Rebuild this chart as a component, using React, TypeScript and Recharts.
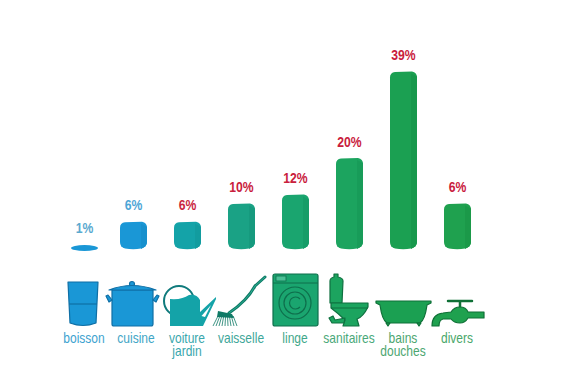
import { BarChart, Bar, XAxis, YAxis, Cell, LabelList } from 'recharts';

const categories = ['boisson', 'cuisine', 'voiture jardin', 'vaisselle', 'linge', 'sanitaires', 'bains douches', 'divers'];
const percentLabels = ['1%', '6%', '6%', '10%', '12%', '20%', '39%', '6%'];
// heights as drawn in the picture: "divers" is labelled 6% but drawn as tall as 10%
const barHeights = [1, 6, 6, 10, 12, 20, 39, 10];
const barColors = ['#1a97d6', '#1a97d6', '#14a3a8', '#1aa285', '#1aa56f', '#1ca45f', '#1ba052', '#1fa14f'];
const sideColors = ['#1a97d6', '#1790cd', '#129c9f', '#169a7e', '#169d68', '#189c59', '#17984c', '#1b9949'];
const labelColors = ['#5aa9cf', '#4ea6d6', '#c9283f', '#c9203c', '#c9203c', '#c9203c', '#c9203c', '#c9203c'];
const tickColors = ['#3ea3d0', '#3fa6c6', '#3aa7ad', '#3fa79a', '#3fa88a', '#4aa97a', '#4ca670', '#4aa76a'];

const chartData = categories.map((name, i) => ({ name, height: barHeights[i], label: percentLabels[i] }));

const FONT = '"Liberation Sans", sans-serif';
const FIRST_SHIFT = 5; // first column sits a little closer to the second one

const shiftOf = (i: number) => (i === 0 ? FIRST_SHIFT : 0);

function ColumnShape(props: any) {
  const { x, y, width, height, index } = props;
  const fill = barColors[index];
  if (index === 0) {
    return <ellipse cx={x + width / 2 + FIRST_SHIFT} cy={y + height - 1} rx={width / 2} ry={3} fill={fill} />;
  }
  const bottom = y + height;
  const body = `M${x},${y + 6} Q${x},${y + 1} ${x + 5},${y + 0.5} L${x + width - 5},${y} Q${x + width},${y + 1} ${x + width},${y + 6} L${x + width},${bottom - 7} Q${x + width},${bottom - 2} ${x + width - 6},${bottom - 0.5} Q${x + width / 2},${bottom + 1} ${x + 5},${bottom - 0.5} Q${x},${bottom - 2} ${x},${bottom - 7} Z`;
  return (
    <g>
      <path d={body} fill={fill} />
      <path d={`M${x + width - 6},${y + 2} L${x + width},${y + 5} L${x + width},${bottom - 7} Q${x + width},${bottom - 3} ${x + width - 6},${bottom} Z`} fill={sideColors[index]} />
    </g>
  );
}

function PercentLabel(props: any) {
  const { x, y, width, index } = props;
  return (
    <text transform={`translate(${x + width / 2 + shiftOf(index)},${y - 11.5}) scale(0.84,1)`} textAnchor="middle" fontFamily={FONT} fontSize={14.5} fontWeight={700} fill={labelColors[index]}>
      {percentLabels[index]}
    </text>
  );
}

// icons are decoration, origin is the column center on the icon base line
function Icon({ index }: { index: number }) {
  const fill = barColors[index];
  const dark = ['#0f6fa5', '#0f6fa5', '#0f7a7c', '#0f7a66', '#0e6f4c', '#0f7040', '#0f7038', '#0f7036'][index];
  const common = { fill, stroke: dark, strokeWidth: 1.2, strokeLinejoin: 'round' as const };
  switch (index) {
    case 0:
      return (
        <g>
          <path d="M-16,-44 L14,-44 L12,-3 Q-1,2 -14,-3 Z" {...common} />
          <path d="M-15,-22 L13,-22" stroke={dark} strokeWidth={1.2} />
        </g>
      );
    case 1:
      return (
        <g>
          <circle cx={-1} cy={-42} r={2.5} {...common} />
          <path d="M-21,-36 L20,-36 L20,-2 Q20,0 18,0 L-19,0 Q-21,0 -21,-2 Z" {...common} />
          <path d="M-24,-36 Q-1,-45 23,-36 Z" {...common} />
          <path d="M-21,-26 L-25,-31 L-27,-30 L-24,-24 Z M20,-26 L24,-31 L26,-30 L23,-24 Z" {...common} />
        </g>
      );
    case 2:
      return (
        <g>
          <circle cx={-8} cy={-25} r={15} fill="none" stroke={dark} strokeWidth={2} />
          <path d="M-17,-27 Q-5,-26 2,-31 Q10,-32 13,-26 L13,-14 L29,-29 L29,-27 L16,0 L-17,0 Z" fill={fill} />
          <path d="M14.5,-10 L24,-21 L18,-9 Z" fill="#fff" />
        </g>
      );
    case 3:
      return (
        <g>
          <path d="M-12,-13 Q6,-25 14,-40 L24,-49" fill="none" stroke={dark} strokeWidth={3} strokeLinecap="round" />
          <path d="M-12,-13 Q6,-25 14,-40 L24,-49" fill="none" stroke="#2bb094" strokeWidth={1} strokeLinecap="round" />
          <path d="M-23,-15 L-9,-12 L-7,-8 L-24,-9 Z" fill={dark} />
          {[-28, -25, -22, -19, -16, -13, -10, -7, -4].map((bx, i) => (
            <path key={i} d={`M${-23 + i * 1.9},-10 L${bx},0`} stroke={dark} strokeWidth={0.8} />
          ))}
        </g>
      );
    case 4:
      return (
        <g>
          <rect x={-22} y={-52} width={45} height={52} rx={2} {...common} />
          <path d="M-22,-43 L23,-43" stroke={dark} />
          <rect x={-19} y={-50} width={10} height={5} fill="#4cc096" stroke={dark} strokeWidth={0.8} />
          <circle cx={0} cy={-23} r={16} fill="none" stroke={dark} strokeWidth={1.2} />
          <circle cx={0} cy={-23} r={11} fill="none" stroke={dark} strokeWidth={1.2} />
          <path d="M5,-27 A6,6 0 1 0 5,-19" fill="none" stroke={dark} strokeWidth={1.2} />
        </g>
      );
    case 5:
      return (
        <g>
          <path d="M-15,-52 L-11,-52 L-11,-49 Q-6,-48 -6,-45 L-7,-23 L-19,-23 L-19,-45 Q-19,-48 -15,-49 Z" {...common} />
          <path d="M-18,-23 L19,-23 L19,-19 Q14,-9 8,-7 L10,0 L-6,0 L-4,-6 Q-10,-12 -18,-18 Z" {...common} />
          <path d="M-18,-18 L19,-18" stroke={dark} />
          <path d="M-4,-8 L-14,-6 L-16,-10 L-20,-8 L-17,-3 L-5,-3 Z" {...common} />
        </g>
      );
    case 6:
      return (
        <g>
          <path d="M-27,-25 L28,-25 L28,-23 L24,-21 Q22,-6 17,-3 L-16,-3 Q-21,-6 -23,-21 L-27,-23 Z" {...common} />
          <path d="M-17,-3 L-13,-3 L-15,0 Z M14,-3 L18,-3 L16,0 Z" {...common} />
        </g>
      );
    default:
      return (
        <g>
          <path d="M-9,-25 L15,-25 M3,-25 L3,-17" stroke={dark} strokeWidth={2.5} strokeLinecap="round" />
          <path d="M-25,0 Q-25,-12 -14,-13 L-6,-14 Q-3,-19 3,-19 Q9,-19 11,-14 L27,-14 L27,-8 L11,-8 Q8,-3 3,-3 Q-3,-3 -6,-7 L-14,-7 Q-18,-6 -18,0 Z" {...common} />
        </g>
      );
  }
}

function CategoryTick(props: any) {
  const { x, y, payload, index } = props;
  const lines = String(payload.value).split(' ');
  const iconBase = y + 71;
  return (
    <g>
      <g transform={`translate(${x + shiftOf(index)},${iconBase})`}>
        <Icon index={index} />
      </g>
      <text
        transform={`translate(${x + shiftOf(index) + (index === 1 ? 3 : 0)},${y + 87.5}) scale(0.86,1)`}
        textAnchor="middle"
        fontFamily={FONT}
        fontSize={14}
        fill={tickColors[index]}
      >
        {lines.map((line, i) => (
          <tspan key={line} x={0} dy={i === 0 ? 0 : 14}>
            {line}
          </tspan>
        ))}
      </text>
    </g>
  );
}

export default function App() {
  return (
    <div style={{ position: 'absolute', left: 0, top: 0, width: 563, height: 371, background: '#fff' }}>
      <BarChart width={563} height={371} data={chartData} margin={{ top: 67, right: 79, bottom: 0, left: 52 }} barCategoryGap={0}>
        <XAxis dataKey="name" height={122} axisLine={false} tickLine={false} interval={0} tick={<CategoryTick />} tickMargin={0} />
        <YAxis hide domain={[0, 40]} />
        <Bar dataKey="height" barSize={27} isAnimationActive={false} shape={<ColumnShape />}>
          {chartData.map((d, i) => (
            <Cell key={d.name} fill={barColors[i]} />
          ))}
          <LabelList dataKey="label" content={<PercentLabel />} />
        </Bar>
      </BarChart>
    </div>
  );
}
